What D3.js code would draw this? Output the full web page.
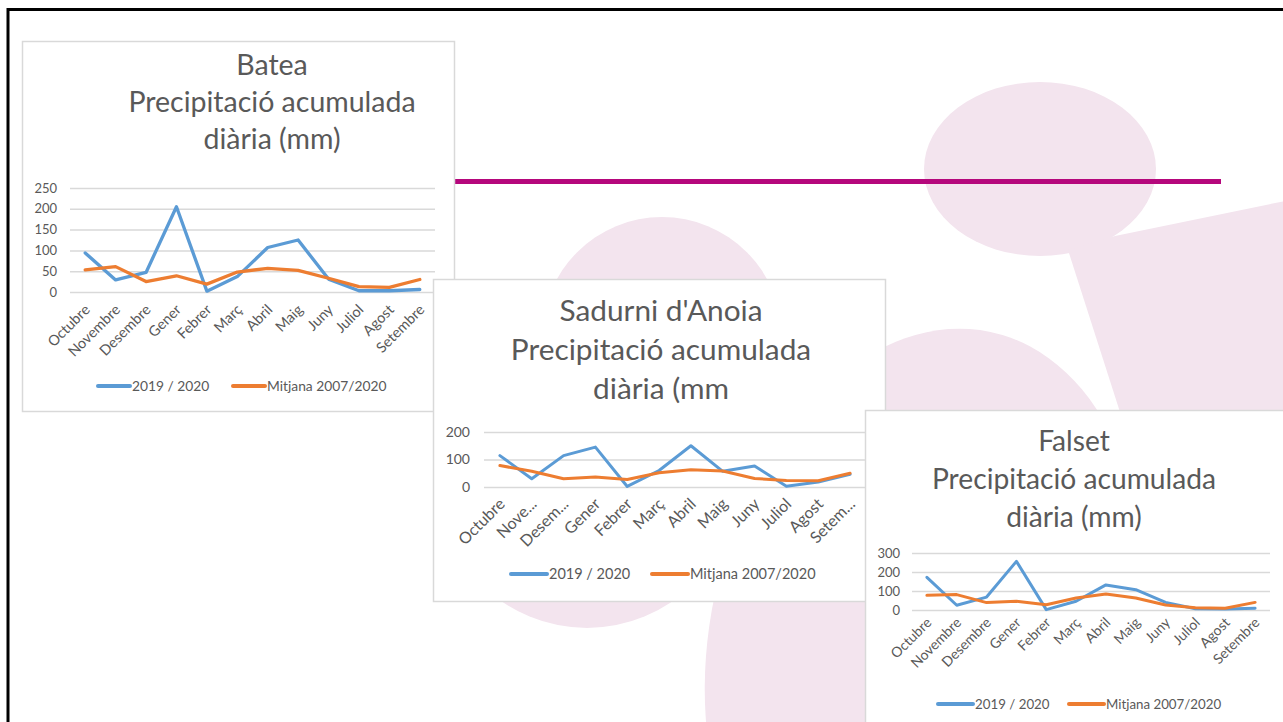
<!DOCTYPE html>
<html>
<head>
<meta charset="utf-8">
<script src="https://cdn.jsdelivr.net/npm/d3@7"></script>
<style>
  body { margin: 0; background: #fff; overflow: hidden; }
  text { font-family: Lato, "Open Sans", sans-serif; fill: #595959; }
</style>
</head>
<body>
<div id="slide"></div>
<script>
var months = ['Octubre', 'Novembre', 'Desembre', 'Gener', 'Febrer', 'Març', 'Abril', 'Maig', 'Juny', 'Juliol', 'Agost', 'Setembre'];
var monthsShort = ['Octubre', 'Nove...', 'Desem...', 'Gener', 'Febrer', 'Març', 'Abril', 'Maig', 'Juny', 'Juliol', 'Agost', 'Setem...'];
var seriesNames = ['2019 / 2020', 'Mitjana 2007/2020'];

var bateaActual  = [94, 29, 47, 205, 2, 37, 107, 125, 31, 3, 3, 6];
var bateaMitjana = [53, 61, 25, 39, 19, 48, 57, 52, 33, 13, 11, 30];
var bateaTicks   = [0, 50, 100, 150, 200, 250];

var sadurniActual  = [114, 30, 114, 145, 2, 60, 150, 57, 76, 3, 18, 46];
var sadurniMitjana = [78, 57, 30, 36, 27, 52, 63, 58, 31, 24, 23, 50];
var sadurniTicks   = [0, 100, 200];

var falsetActual  = [172, 25, 68, 256, 2, 46, 132, 107, 40, 7, 5, 9];
var falsetMitjana = [77, 81, 39, 46, 28, 63, 84, 63, 26, 12, 9, 40];
var falsetTicks   = [0, 100, 200, 300];

var blue = '#5b9bd5', orange = '#ed7d31', grid = '#d9d9d9', pink = '#f3e4ee';

var W = 1283, H = 722;
var svg = d3.select('#slide').append('svg')
  .attr('width', W)
  .attr('height', H);

// background shapes
var bg = svg.append('g');
bg.append('ellipse').attr('cx', 1040).attr('cy', 169).attr('rx', 116).attr('ry', 87).attr('fill', pink);
bg.append('polygon')
  .attr('points', [[1068, 250], [1115, 236], [1290, 200], [1290, 730], [1222, 730]].join(' '))
  .attr('fill', pink);
bg.append('circle').attr('cx', 662).attr('cy', 337).attr('r', 120).attr('fill', pink);
bg.append('circle').attr('cx', 587).attr('cy', 478).attr('r', 150).attr('fill', pink);
bg.append('ellipse').attr('rx', 215).attr('ry', 315).attr('fill', pink)
  .attr('transform', 'translate(925,640) rotate(12)');

svg.append('line')
  .attr('x1', 454).attr('x2', 1221).attr('y1', 181.5).attr('y2', 181.5)
  .attr('stroke', '#b5077c').attr('stroke-width', 5);

svg.append('rect')
  .attr('x', 8).attr('y', 9.5).attr('width', 1400).attr('height', 900)
  .attr('fill', 'none').attr('stroke', '#000').attr('stroke-width', 3);

var drawChart = function(o){
  var g = svg.append('g');
  g.append('rect')
    .attr('x', o.box[0] + 0.5).attr('y', o.box[1] + 0.5)
    .attr('width', o.box[2]).attr('height', o.box[3])
    .attr('fill', '#fff').attr('stroke', grid).attr('stroke-width', 1.5);

  g.append('text')
    .attr('text-anchor', 'middle')
    .attr('font-size', o.titleSize)
    .selectAll('tspan').data(o.title).enter().append('tspan')
    .attr('x', o.titleX)
    .attr('y', function(d, i){ return o.titleY + i * o.titleGap; })
    .text(function(d){ return d; });

  var x = d3.scaleBand().domain(months).range(o.xRange);
  var y = d3.scaleLinear().domain([0, d3.max(o.ticks)]).range(o.yRange);
  var cx = function(d, i){ return x(months[i]) + x.bandwidth() / 2; };

  var yAxis = g.append('g')
    .attr('transform', 'translate(' + o.xRange[0] + ',0)')
    .call(d3.axisLeft(y).tickValues(o.ticks).tickSize(-(o.xRange[1] - o.xRange[0])).tickPadding(o.yPad));
  yAxis.select('.domain').remove();
  yAxis.selectAll('line').attr('stroke', grid).attr('stroke-width', 1.5);
  yAxis.selectAll('text').attr('font-size', o.yAxisSize).attr('font-family', null).attr('fill', '#595959');

  g.append('g').selectAll('text').data(o.labels).enter().append('text')
    .attr('text-anchor', 'end')
    .attr('font-size', o.axisSize)
    .attr('dy', '0.35em')
    .attr('transform', function(d, i){
      return 'translate(' + (cx(d, i) + 2) + ',' + (o.yRange[0] + o.labelGap) + ') rotate(-45)';
    })
    .text(function(d){ return d; });

  var line = d3.line().x(cx).y(function(d){ return y(d); });
  [[o.actual, blue], [o.mitjana, orange]].forEach(function(s){
    g.append('path')
      .datum(s[0])
      .attr('d', line)
      .attr('fill', 'none')
      .attr('stroke', s[1])
      .attr('stroke-width', o.lineWidth)
      .attr('stroke-linejoin', 'round')
      .attr('stroke-linecap', 'round');
  });

  [blue, orange].forEach(function(c, i){
    var lx = o.legendX[i];
    g.append('line')
      .attr('x1', lx).attr('x2', lx + o.legendLen)
      .attr('y1', o.legendY).attr('y2', o.legendY)
      .attr('stroke', c).attr('stroke-width', 4).attr('stroke-linecap', 'round');
    g.append('text')
      .attr('x', lx + o.legendLen + 2).attr('y', o.legendY)
      .attr('dy', '0.35em')
      .attr('font-size', o.legendSize)
      .text(seriesNames[i]);
  });
};

drawChart({
  box: [22, 41, 432, 370],
  title: ['Batea', 'Precipitació acumulada', 'diària (mm)'],
  titleX: 272, titleY: 75, titleGap: 37, titleSize: 28.5,
  xRange: [70, 435], yRange: [292, 188], ticks: bateaTicks, yPad: 13, yAxisSize: 13,
  labels: months, labelGap: 15, axisSize: 14.5, lineWidth: 3.3,
  actual: bateaActual, mitjana: bateaMitjana,
  legendX: [98, 233], legendLen: 32, legendY: 386, legendSize: 13.8
});

drawChart({
  box: [433, 279, 452, 322],
  title: ["Sadurni d'Anoia", 'Precipitació acumulada', 'diària (mm'],
  titleX: 661, titleY: 321, titleGap: 39, titleSize: 29.8,
  xRange: [484, 866], yRange: [487, 432], ticks: sadurniTicks, yPad: 14, yAxisSize: 14,
  labels: monthsShort, labelGap: 14, axisSize: 16, lineWidth: 3,
  actual: sadurniActual, mitjana: sadurniMitjana,
  legendX: [511, 652], legendLen: 36, legendY: 574, legendSize: 14.5
});

drawChart({
  box: [865, 410, 440, 330],
  title: ['Falset', 'Precipitació acumulada', 'diària (mm)'],
  titleX: 1074, titleY: 451, titleGap: 38, titleSize: 28.2,
  xRange: [912, 1270], yRange: [610, 553], ticks: falsetTicks, yPad: 12, yAxisSize: 13,
  labels: months, labelGap: 10, axisSize: 14, lineWidth: 3,
  actual: falsetActual, mitjana: falsetMitjana,
  legendX: [938, 1069], legendLen: 35, legendY: 704, legendSize: 13.3
});
</script>
</body>
</html>
